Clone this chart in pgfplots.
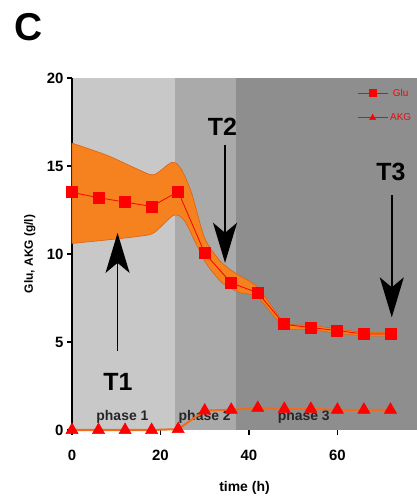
\documentclass[border=0pt]{standalone}
\usepackage{fontspec}
\setmainfont{Liberation Sans}
\usepackage{pgfplots}
\pgfplotsset{compat=1.18}
\usetikzlibrary{arrows.meta}
\definecolor{phA}{RGB}{200,200,200}
\definecolor{phB}{RGB}{170,170,170}
\definecolor{phC}{RGB}{142,142,142}
\definecolor{band}{HTML}{F5821F}
\definecolor{bandedge}{HTML}{E0600F}
\definecolor{akgline}{HTML}{F26A1B}

\begin{document}
\begin{tikzpicture}
\begin{axis}[
  name=ax, set layers,
  scale only axis, width=345bp, height=352bp,
  xmin=0, xmax=78, ymin=0, ymax=20,
  axis y line*=left, axis x line*=bottom,
  x axis line style={draw=none},
  y axis line style={line width=1.3bp},
  xtick={0,20,40,60}, ytick={0,5,...,20},
  tick align=outside, major tick length=5bp,
  tick style={black, line width=1.2bp},
  ticklabel style={font=\fontsize{15}{18}\selectfont\bfseries},
  xticklabel style={yshift=-12bp},
  /pgf/number format/assume math mode=true,
  xlabel={time (h)}, ylabel={Glu, AKG (g/l)},
  xlabel style={font=\fontsize{14}{16}\selectfont\bfseries, at={(axis description cs:0.5,-0.165)}, anchor=center},
  ylabel style={font=\fontsize{12}{14}\selectfont\bfseries, at={(axis description cs:-0.122,0.5)}, anchor=center},
  clip=false,
  legend style={at={(axis description cs:0.826,0.975)}, anchor=north west,
    draw=none, fill=none, font=\fontsize{10}{11}\selectfont, text=red,
    row sep=12bp, inner sep=0pt},
  legend image code/.code={\draw[red, line width=1bp, mark repeat=2, mark phase=2, mark size=3.5bp]
    plot coordinates {(0bp,0bp)(15bp,0bp)(30bp,0bp)};},
]
\begin{pgfonlayer}{axis background}
  \fill[phA] (axis cs:0,0) rectangle (axis cs:23.4,20);
  \fill[phB] (axis cs:23.4,0) rectangle (axis cs:37,20);
  \fill[phC] (axis cs:37,0) rectangle (axis cs:78,20);
\end{pgfonlayer}

% Glu standard deviation band
\addplot[forget plot, fill=band, draw=bandedge, line width=0.6bp, smooth, tension=0.45] coordinates {
  (0,16.3) (8,15.6) (15,14.8) (18.5,14.5) (22.5,15.2) (24.5,14.9) (27,13.5)
  (30,10.9) (33.5,9.6) (37,8.9) (42,8.1) (48,6.15) (54,5.95) (60,5.75)
  (66,5.55) (72,5.55)
  (72,5.35) (66,5.35) (60,5.5) (54,5.7) (48,5.85) (42,7.55) (38,7.8)
  (34,8.35) (30.5,9.4) (28.4,10.4) (25.4,11.9) (23,12.2) (18.5,11.2)
  (15,11.0) (8,10.8) (0,10.6)} -- cycle;

\node[font=\fontsize{14}{16}\selectfont\bfseries, text=black!85] at (axis cs:11.4,0.75) {phase 1};
\node[font=\fontsize{14}{16}\selectfont\bfseries, text=black!85] at (axis cs:30,0.75) {phase 2};
\node[font=\fontsize{14}{16}\selectfont\bfseries, text=black!85] at (axis cs:52.4,0.75) {phase 3};

\addplot[red, line width=0.8bp, mark=square*, mark size=5.5bp, mark options={solid, fill=red, draw=red}] coordinates {
  (0,13.5) (6,13.2) (12,12.95) (18,12.7) (24,13.55) (30,10.05) (36,8.35)
  (42,7.8) (48,6.0) (54,5.82) (60,5.65) (66,5.45) (72,5.45)};
\addlegendentry{Glu}

\addplot[akgline, line width=2bp, mark=triangle*, mark size=7bp, mark options={solid, fill=red, draw=red, line width=0.5bp}] coordinates {
  (0,0) (6,0) (12,0) (18,0) (24,0.05) (30,1.1) (36,1.15) (42,1.25)
  (48,1.2) (54,1.2) (60,1.15) (66,1.15) (72,1.15)};
\addlegendentry{AKG}

\draw[line width=1.5bp, -{Stealth[length=40bp, width=24bp, inset=10bp]}] (axis cs:10.3,4.5) -- (axis cs:10.3,11.2);
\draw[line width=1.5bp, -{Stealth[length=40bp, width=24bp, inset=10bp]}] (axis cs:34.6,16.2) -- (axis cs:34.6,9.5);
\draw[line width=1.5bp, -{Stealth[length=40bp, width=24bp, inset=10bp]}] (axis cs:72.3,13.35) -- (axis cs:72.3,6.4);
\node[font=\fontsize{25}{28}\selectfont\bfseries] at (axis cs:10.4,2.75) {T1};
\node[font=\fontsize{25}{28}\selectfont\bfseries] at (axis cs:34,17.2) {T2};
\node[font=\fontsize{25}{28}\selectfont\bfseries] at (axis cs:72.1,14.65) {T3};
\node[font=\fontsize{39}{42}\selectfont\bfseries] at (axis cs:-9.75,22.9) {C};
\end{axis}
\pgfresetboundingbox
\path[use as bounding box] ([xshift=-72bp,yshift=-71bp]ax.south west) rectangle ([yshift=78bp]ax.north east);
\end{tikzpicture}
\end{document}
